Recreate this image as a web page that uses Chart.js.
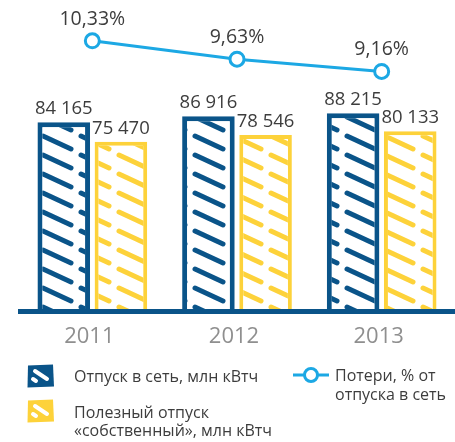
<!DOCTYPE html>
<html>
<head>
<meta charset="utf-8">
<script src="https://cdn.jsdelivr.net/npm/chart.js@4/dist/chart.umd.min.js"></script>
<style>
  html, body { margin: 0; padding: 0; background: #fff; }
  #wrap { position: relative; width: 455px; height: 442px; overflow: hidden; font-family: 'Open Sans', sans-serif; color: #3d3d3d; }
  #c { position: absolute; left: 0; top: 0; }
  .lg { position: absolute; font-size: 16px; white-space: nowrap; }
  .ic { position: absolute; }
</style>
</head>
<body>
<div id="wrap">
  <canvas id="c" width="455" height="442"></canvas>
  <canvas class="ic" id="icBlue" width="28" height="24" style="left:27px;top:364px"></canvas>
  <div class="lg" style="left:74px;top:367px;line-height:18px">Отпуск в сеть, млн кВтч</div>
  <canvas class="ic" id="icYellow" width="28" height="24" style="left:27px;top:399px"></canvas>
  <div class="lg" style="left:74px;top:404px;line-height:17.5px">Полезный отпуск<br>«собственный», млн кВтч</div>
  <canvas class="ic" id="icLine" width="36" height="18" style="left:293px;top:366px"></canvas>
  <div class="lg" style="left:335px;top:365.5px;line-height:19px">Потери, % от<br>отпуска в сеть</div>
</div>
<script>
// ---- data ----
const years = ['2011', '2012', '2013'];
const supply = [84165, 86916, 88215];        // Отпуск в сеть, млн кВтч
const useful = [75470, 78546, 80133];        // Полезный отпуск «собственный», млн кВтч
const losses = [10.33, 9.63, 9.16];          // Потери, % от отпуска в сеть

const BLUE = '#0a5489';
const YELLOW = '#fdd23a';
const CYAN = '#1ca8e4';
const FONT = "'Open Sans', sans-serif";

function hatch(color) {
  const c = document.createElement('canvas');
  c.width = 38; c.height = 19;
  const g = c.getContext('2d');
  g.fillStyle = '#fff';
  g.fillRect(0, 0, 38, 19);
  g.strokeStyle = color;
  g.lineWidth = 5;
  g.lineCap = 'round';
  g.beginPath();
  g.moveTo(5, 3);
  g.lineTo(33, 16);
  g.stroke();
  return g.createPattern(c, 'repeat');
}

function fmtNum(v) { return String(v).replace(/\B(?=(\d{3})+(?!\d))/g, ' '); }
function fmtPct(v) { return v.toFixed(2).replace('.', ',') + '%'; }

const labelPlugin = {
  id: 'valueLabels',
  afterDatasetsDraw(chart) {
    const ctx = chart.ctx;
    ctx.save();
    ctx.fillStyle = '#3d3d3d';
    ctx.textAlign = 'center';
    ctx.textBaseline = 'alphabetic';
    chart.data.datasets.forEach((ds, i) => {
      const meta = chart.getDatasetMeta(i);
      meta.data.forEach((el, j) => {
        if (ds.type === 'line') {
          ctx.font = '19.5px ' + FONT;
          ctx.fillText(fmtPct(ds.data[j]), el.x, el.y - 16);
        } else {
          ctx.font = '18.5px ' + FONT;
          ctx.fillText(fmtNum(ds.data[j]), el.x, el.y - 8);
        }
      });
    });
    ctx.restore();
  }
};

new Chart(document.getElementById('c'), {
  type: 'bar',
  data: {
    labels: years,
    datasets: [
      {
        type: 'line', label: 'Потери, % от отпуска в сеть', data: losses, yAxisID: 'y1',
        borderColor: CYAN, borderWidth: 3, pointRadius: 7, pointBorderWidth: 3,
        pointBackgroundColor: '#fff', pointBorderColor: CYAN, tension: 0, order: 0
      },
      {
        label: 'Отпуск в сеть, млн кВтч', data: supply, yAxisID: 'y',
        backgroundColor: hatch(BLUE), borderColor: BLUE, borderWidth: 5, borderSkipped: 'start', order: 1
      },
      {
        label: 'Полезный отпуск «собственный», млн кВтч', data: useful, yAxisID: 'y',
        backgroundColor: hatch(YELLOW), borderColor: YELLOW, borderWidth: 4, borderSkipped: 'start', order: 2
      }
    ]
  },
  options: {
    responsive: false,
    animation: false,
    layout: { autoPadding: false, padding: { left: 20, right: 1, top: 5, bottom: 91 } },
    datasets: { bar: { categoryPercentage: 0.79, barPercentage: 0.92 } },
    plugins: { legend: { display: false }, tooltip: { enabled: false } },
    scales: {
      x: {
        grid: { display: false, drawTicks: false },
        border: { display: true, color: BLUE, width: 5, z: 1 },
        ticks: { color: '#8f8f8f', font: { family: FONT, size: 22 }, padding: 13, labelOffset: -3 },
        afterFit(s) { s.height = 40; }
      },
      y: { display: false, min: 0, max: 136500 },
      y1: { display: false, min: 0, max: 11.7, position: 'right' }
    }
  },
  plugins: [labelPlugin]
});

// legend icons
function icon(id, color) {
  const g = document.getElementById(id).getContext('2d');
  g.fillStyle = color;
  g.beginPath();
  g.moveTo(1, 1.5); g.lineTo(26, 0.5); g.lineTo(27, 22.5); g.lineTo(0.5, 23.5); g.closePath();
  g.fill();
  g.strokeStyle = '#fff';
  g.lineWidth = 4;
  g.lineCap = 'round';
  g.beginPath(); g.moveTo(8, 7); g.lineTo(20, 15); g.stroke();
  g.beginPath(); g.moveTo(6, 15); g.lineTo(9, 17); g.stroke();
}
icon('icBlue', BLUE);
icon('icYellow', YELLOW);
(function () {
  const g = document.getElementById('icLine').getContext('2d');
  g.strokeStyle = CYAN; g.lineWidth = 3;
  g.beginPath(); g.moveTo(0, 9); g.lineTo(36, 9); g.stroke();
  g.fillStyle = '#fff';
  g.beginPath(); g.arc(18, 9, 6.5, 0, Math.PI * 2); g.fill(); g.stroke();
})();
</script>
</body>
</html>
